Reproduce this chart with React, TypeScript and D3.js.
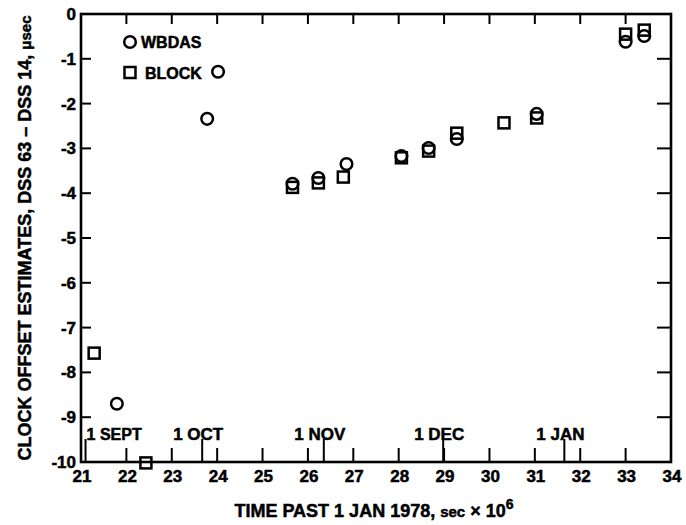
import React from "react";
import * as d3 from "d3";

const xTicks = [21, 22, 23, 24, 25, 26, 27, 28, 29, 30, 31, 32, 33, 34];
const yTicks = [0, -1, -2, -3, -4, -5, -6, -7, -8, -9, -10];

const monthLabels = ["1 SEPT", "1 OCT", "1 NOV", "1 DEC", "1 JAN"];
const monthPos = [21.1, 23.67, 26.35, 28.98, 31.65];

const wbdasX = [21.79, 23.78, 24.02, 25.66, 26.23, 26.85, 28.06, 28.66, 29.28, 31.04, 33.0, 33.41];
const wbdasY = [-8.7, -2.34, -1.29, -3.79, -3.66, -3.35, -3.17, -2.99, -2.79, -2.23, -0.62, -0.49];

const blockX = [21.29, 22.43, 25.66, 26.23, 26.78, 28.06, 28.66, 29.28, 30.32, 31.04, 33.0, 33.41];
const blockY = [-7.57, -10.02, -3.87, -3.77, -3.64, -3.21, -3.06, -2.66, -2.43, -2.32, -0.45, -0.36];

const W = 686;
const H = 525;
const left = 81;
const right = 671;
const top = 14;
const bottom = 462;
const font = "'Liberation Sans', Arial, sans-serif";

export default function App() {
  const x = d3.scaleLinear().domain([21, 34]).range([left, right]);
  const y = d3.scaleLinear().domain([0, -10]).range([top, bottom]);
  const sw = 2.6;
  const ms = 2.5;
  const ts = { stroke: "#000", strokeWidth: 0.5 };
  return (
    <svg width={W} height={H} style={{ position: "absolute", left: 0, top: 0, background: "#fff" }}
      fontFamily={font} fontWeight="bold">
      <rect x={left} y={top} width={right - left} height={bottom - top} fill="none" stroke="#000" strokeWidth={sw} />
      {xTicks.slice(1, -1).map((t) => (
        <g key={"xt" + t}>
          <line x1={x(t)} x2={x(t)} y1={bottom} y2={bottom - 14} stroke="#000" strokeWidth={2} />
          <line x1={x(t)} x2={x(t)} y1={top} y2={top + 10} stroke="#000" strokeWidth={2} />
        </g>
      ))}
      {xTicks.map((t) => (
        <text key={"xl" + t} x={x(t) + 1} y={482} textAnchor="middle" fontSize={17} {...ts}>{t}</text>
      ))}
      {yTicks.slice(1, -1).map((t) => (
        <g key={"yt" + t}>
          <line x1={left} x2={left + 10} y1={y(t)} y2={y(t)} stroke="#000" strokeWidth={2} />
          <line x1={right} x2={right - 14} y1={y(t)} y2={y(t)} stroke="#000" strokeWidth={2} />
        </g>
      ))}
      {yTicks.map((t) => (
        <text key={"yl" + t} x={76} y={y(t) + 6} textAnchor="end" fontSize={17} {...ts}>{t === 0 ? "0" : "-" + Math.abs(t)}</text>
      ))}
      {monthPos.map((m, i) => (
        <g key={"m" + i}>
          <line x1={x(m)} x2={x(m)} y1={bottom} y2={bottom - 23} stroke="#000" strokeWidth={2} />
          <text x={i === 0 ? x(m) + 1 : x(m) - 4} y={440} textAnchor={i === 0 ? "start" : "middle"} fontSize={i === 0 ? 16 : 17} {...ts}>{monthLabels[i]}</text>
        </g>
      ))}
      {blockX.map((v, i) => (
        <rect key={"b" + i} x={x(v) - 5.5} y={y(blockY[i]) - 5.5} width={11} height={11} fill="none" stroke="#000" strokeWidth={ms} />
      ))}
      {wbdasX.map((v, i) => (
        <circle key={"w" + i} cx={x(v)} cy={y(wbdasY[i])} r={5.8} fill="none" stroke="#000" strokeWidth={ms} />
      ))}
      <circle cx={130} cy={42} r={5.8} fill="none" stroke="#000" strokeWidth={ms} />
      <text x={141} y={48} fontSize={16} {...ts}>WBDAS</text>
      <rect x={124.5} y={67} width={11} height={11} fill="none" stroke="#000" strokeWidth={ms} />
      <text x={145} y={79} fontSize={16} {...ts}>BLOCK</text>
      <text transform={`translate(31, ${(top + bottom) / 2}) rotate(-90)`} textAnchor="middle" fontSize={18} {...ts}>
        CLOCK OFFSET ESTIMATES, DSS 63 – DSS 14, <tspan fontSize={15}>μsec</tspan>
      </text>
      <text x={374} y={517} textAnchor="middle" fontSize={18} {...ts}>
        TIME PAST 1 JAN 1978, <tspan fontSize={15}>sec</tspan> × 10<tspan dy={-8} fontSize={14}>6</tspan>
      </text>
    </svg>
  );
}
